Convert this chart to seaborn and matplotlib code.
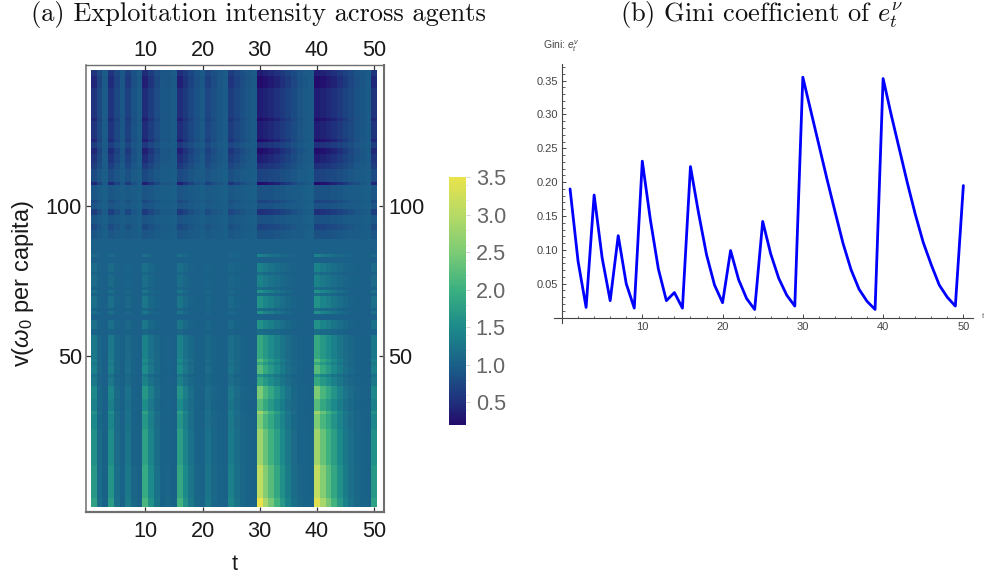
"""
Exploitation intensity heatmap and Gini coefficient line
"""
import numpy as np
import pandas as pd
import matplotlib
matplotlib.use("Agg")
import matplotlib.pyplot as plt
from matplotlib.colors import LinearSegmentedColormap
from matplotlib.ticker import MultipleLocator
from matplotlib.transforms import ScaledTranslation
import seaborn as sns

sns.set_theme(style="white")
plt.rcParams["font.family"] = ["Liberation Sans", "DejaVu Sans"]
plt.rcParams["mathtext.fontset"] = "custom"
plt.rcParams["mathtext.rm"] = "Liberation Sans"
plt.rcParams["mathtext.it"] = "Liberation Sans:italic"

# ========== data ==========
t_values = list(range(1, 51))
gini = [0.190, 0.083, 0.015, 0.181, 0.088, 0.025, 0.121, 0.050, 0.014, 0.231,
        0.145, 0.072, 0.025, 0.037, 0.014, 0.223, 0.155, 0.093, 0.048, 0.022,
        0.099, 0.056, 0.028, 0.012, 0.142, 0.094, 0.058, 0.033, 0.017, 0.355,
        0.305, 0.255, 0.205, 0.157, 0.110, 0.071, 0.042, 0.024, 0.012, 0.353,
        0.300, 0.250, 0.200, 0.153, 0.111, 0.078, 0.048, 0.030, 0.017, 0.195]

# cell values per column, one list per kind of row (named after the level at t=30)
L20 = [.44,.72,.94,.46,.70,.90,.60,.84,.94,.36,.56,.76,.90,.88,.94,.38,.54,.70,.84,.92,.68,.80,.90,.96,.56,.70,.80,.88,.94,.20,.26,.32,.40,.50,.62,.74,.86,.92,.96,.20,.26,.32,.40,.50,.62,.73,.84,.90,.95,.44]
L35 = [.55,.77,.95,.56,.75,.92,.68,.87,.95,.48,.64,.80,.92,.90,.95,.49,.62,.75,.87,.94,.74,.84,.92,.97,.64,.75,.84,.90,.95,.35,.40,.45,.51,.60,.69,.79,.88,.94,.97,.35,.40,.45,.51,.60,.69,.78,.87,.92,.96,.55]
L50 = [.65,.83,.96,.66,.81,.94,.75,.90,.96,.60,.73,.85,.94,.93,.96,.61,.71,.81,.90,.95,.80,.88,.94,.98,.73,.81,.88,.93,.96,.50,.54,.58,.63,.69,.76,.84,.91,.95,.98,.50,.54,.58,.63,.69,.76,.83,.90,.94,.97,.65]
L70 = [.79,.90,.98,.80,.89,.96,.85,.94,.98,.76,.84,.91,.96,.96,.98,.77,.83,.89,.94,.97,.88,.93,.96,.99,.84,.89,.93,.96,.98,.70,.72,.75,.78,.81,.86,.90,.95,.97,.99,.70,.72,.75,.78,.81,.86,.90,.94,.96,.98,.79]
L85 = [.90,.95,.99,.90,.94,.98,.93,.97,.99,.88,.92,.96,.98,.98,.99,.88,.91,.94,.97,.99,.94,.96,.98,.99,.92,.94,.96,.98,.99,.85,.86,.87,.89,.91,.93,.95,.97,.99,1.0,.85,.86,.87,.89,.91,.93,.95,.97,.98,.99,.90]
L100 = [1.01,1.0,1.0,1.01,1.0,1.0,1.0,1.0,1.0,1.01,1.0,1.0,1.0,1.0,1.0,1.01,1.0,1.0,1.0,1.0,1.0,1.0,1.0,1.0,1.0,1.0,1.0,1.0,1.0,1.01,1.01,1.01,1.0,1.0,1.0,1.0,1.0,1.0,1.0,1.01,1.01,1.01,1.0,1.0,1.0,1.0,1.0,1.0,1.0,1.01]
L115 = [1.05,1.01,1.0,1.05,1.01,1.0,1.02,1.0,1.0,1.07,1.03,1.01,1.0,1.0,1.0,1.06,1.03,1.01,1.0,1.0,1.02,1.01,1.0,1.0,1.03,1.01,1.01,1.0,1.0,1.15,1.11,1.09,1.06,1.04,1.02,1.01,1.0,1.0,1.0,1.15,1.11,1.09,1.06,1.04,1.02,1.01,1.01,1.0,1.0,1.05]
L140 = [1.13,1.03,1.0,1.12,1.03,1.01,1.05,1.01,1.0,1.18,1.07,1.02,1.01,1.01,1.0,1.17,1.08,1.03,1.01,1.01,1.04,1.02,1.01,1.0,1.07,1.04,1.02,1.01,1.0,1.40,1.30,1.23,1.17,1.11,1.06,1.03,1.01,1.01,1.0,1.40,1.30,1.23,1.17,1.11,1.06,1.04,1.02,1.01,1.0,1.13]
L160 = [1.19,1.04,1.01,1.18,1.05,1.01,1.08,1.02,1.01,1.26,1.10,1.04,1.01,1.02,1.01,1.25,1.11,1.05,1.02,1.01,1.07,1.02,1.01,1.01,1.11,1.05,1.02,1.01,1.01,1.60,1.45,1.35,1.25,1.17,1.10,1.04,1.02,1.01,1.01,1.60,1.45,1.35,1.25,1.17,1.10,1.05,1.02,1.01,1.01,1.19]
L190 = [1.29,1.06,1.01,1.27,1.07,1.02,1.12,1.03,1.01,1.40,1.20,1.08,1.02,1.03,1.01,1.38,1.20,1.10,1.03,1.02,1.10,1.04,1.02,1.01,1.16,1.08,1.04,1.02,1.01,1.90,1.68,1.52,1.38,1.25,1.14,1.06,1.03,1.02,1.01,1.90,1.68,1.52,1.38,1.25,1.14,1.08,1.04,1.02,1.01,1.29]
L220 = [1.38,1.08,1.01,1.36,1.10,1.02,1.16,1.04,1.01,1.53,1.28,1.11,1.02,1.04,1.01,1.50,1.28,1.13,1.04,1.02,1.13,1.05,1.02,1.01,1.22,1.11,1.05,1.02,1.01,2.20,1.90,1.70,1.50,1.34,1.19,1.08,1.04,1.02,1.01,2.20,1.90,1.70,1.50,1.34,1.19,1.11,1.05,1.02,1.01,1.38]
L250 = [1.48,1.10,1.02,1.45,1.12,1.03,1.20,1.04,1.02,1.66,1.35,1.14,1.03,1.05,1.02,1.63,1.35,1.17,1.05,1.03,1.16,1.06,1.03,1.02,1.27,1.14,1.06,1.03,1.02,2.50,2.12,1.87,1.63,1.42,1.24,1.10,1.05,1.03,1.02,2.50,2.12,1.87,1.63,1.42,1.24,1.14,1.06,1.03,1.02,1.48]
L280 = [1.58,1.13,1.02,1.54,1.14,1.04,1.23,1.05,1.02,1.79,1.42,1.17,1.04,1.05,1.02,1.76,1.42,1.20,1.05,1.04,1.20,1.07,1.04,1.02,1.32,1.16,1.07,1.04,1.02,2.80,2.35,2.04,1.76,1.50,1.29,1.13,1.05,1.04,1.02,2.80,2.35,2.04,1.76,1.50,1.29,1.16,1.07,1.04,1.02,1.58]
L310 = [1.67,1.15,1.02,1.63,1.17,1.04,1.27,1.06,1.02,1.92,1.50,1.20,1.04,1.06,1.02,1.88,1.50,1.25,1.06,1.04,1.23,1.08,1.04,1.02,1.38,1.19,1.08,1.04,1.02,3.10,2.58,2.22,1.88,1.59,1.34,1.15,1.06,1.04,1.02,3.10,2.58,2.22,1.88,1.59,1.34,1.19,1.08,1.04,1.02,1.67]
L350 = [1.80,1.18,1.03,1.75,1.20,1.05,1.33,1.08,1.03,2.10,1.60,1.25,1.05,1.08,1.03,2.05,1.60,1.30,1.08,1.05,1.28,1.10,1.05,1.03,1.45,1.23,1.10,1.05,1.03,3.50,2.88,2.45,2.05,1.70,1.40,1.18,1.08,1.05,1.03,3.40,2.88,2.45,2.05,1.70,1.40,1.23,1.10,1.05,1.03,1.80]

# which kind of row each v is, from v=1 up to v=145
row_kinds = (
    [L350]*3 + [L310]*11 + [L280]*12 + [L250]*5 + [L280]*1 + [L220]*4 + [L250]*4
    + [L190]*3 + [L160]*1 + [L220]*3 + [L190]*1 + [L220]*1
    + [L190]*8 + [L115]*2 + [L160]*3 + [L100]*2 + [L160]*1 + [L115]*1 + [L160]*4
    + [L115]*1 + [L160]*1 + [L115]*1 + [L140]*4 + [L115]*1 + [L140]*3 + [L100]*2
    + [L140]*1 + [L100]*5 + [L85]*3 + [L70]*2 + [L85]*3 + [L50]*2
    + [L85]*2 + [L70]*1 + [L85]*5 + [L20]*1 + [L70]*4 + [L50]*2 + [L35]*3 + [L20]*2
    + [L50]*2 + [L20]*1 + [L35]*6 + [L20]*1 + [L35]*10 + [L20]*4 + [L35]*2
)
v_values = list(range(1, 146))

cmap_colors = ["#230b6b", "#1f2f7c", "#1a6088", "#1c8a8a", "#3bb080", "#7ccb75", "#b6da66", "#e9e34c"]
cmap_levels = [0.2, 0.5, 1.0, 1.5, 2.0, 2.5, 3.0, 3.5]

W, H = 984, 577


def box(left, top, right, bottom):
    return [left / W, 1 - bottom / H, (right - left) / W, (bottom - top) / H]


fig = plt.figure(figsize=(W / 100, H / 100), dpi=100)
ax_heat = fig.add_axes(box(86, 65, 384, 512))
ax_cbar = fig.add_axes(box(449, 177, 466, 425))
ax_line = fig.add_axes(box(554, 64, 973, 323))

# ========== (a) heatmap ==========
df = pd.DataFrame(np.array(row_kinds), index=v_values, columns=t_values)
cmap = LinearSegmentedColormap.from_list(
    "exploit", [((lv - 0.2) / 3.3, c) for lv, c in zip(cmap_levels, cmap_colors)])
sns.heatmap(df, ax=ax_heat, cmap=cmap, vmin=0.2, vmax=3.5, cbar_ax=ax_cbar,
            xticklabels=False, yticklabels=False, rasterized=True)

ax_heat.set_xlim(-5 / 5.72, 293 / 5.72)
ax_heat.set_ylim(-5 / 3.02, 145 + 5 / 3.02)
ax_heat.set_xticks([9.5, 19.5, 29.5, 39.5, 49.5], ["10", "20", "30", "40", "50"])
ax_heat.set_yticks([50, 100], ["50", "100"])
ax_heat.tick_params(axis="both", direction="in", length=3.6, width=0.9, color="#333333",
                    labelsize=15.6, labelcolor="#1a1a1a", pad=3, bottom=True, top=True,
                    left=True, right=True, labelbottom=True, labeltop=True,
                    labelleft=True, labelright=True)
# the bottom labels sit further from the frame than the top ones
for tick in ax_heat.xaxis.get_major_ticks():
    tick.label1.set_transform(tick.label1.get_transform()
                              + ScaledTranslation(0, -0.05, fig.dpi_scale_trans))
for side, lw in [("top", 1.0), ("left", 1.1), ("right", 1.5), ("bottom", 1.6)]:
    ax_heat.spines[side].set_visible(True)
    ax_heat.spines[side].set_color("#6e6e6e")
    ax_heat.spines[side].set_linewidth(lw)
ax_heat.set_xlabel("t", fontsize=15.6, color="#1a1a1a")
ax_heat.xaxis.set_label_coords(0.5, -0.095)
ax_heat.set_ylabel(r"v($\omega_0$ per capita)", fontsize=17, color="#1a1a1a")
ax_heat.yaxis.set_label_coords(-0.168, 0.51)

# colorbar
ax_cbar.set_yticks([0.5, 1.0, 1.5, 2.0, 2.5, 3.0, 3.5],
                   ["0.5", "1.0", "1.5", "2.0", "2.5", "3.0", "3.5"])
ax_cbar.yaxis.set_minor_locator(MultipleLocator(0.2))
ax_cbar.tick_params(axis="y", which="major", direction="out", length=3, width=0.7,
                    color="#d5d5d5", labelsize=15.6, labelcolor="#666666", pad=4, right=True)
ax_cbar.tick_params(axis="y", which="minor", direction="out", length=1.5, width=0.5,
                    color="#dddddd", right=True)

# ========== (b) Gini line ==========
sns.lineplot(x=t_values, y=gini, ax=ax_line, color="#0000ff", linewidth=2.0,
             estimator=None, sort=False)
ax_line.set_xlim(-1.0, 51.2)
ax_line.set_ylim(-0.008, 0.3745)
ax_line.patch.set_alpha(0)
for side in ["top", "right"]:
    ax_line.spines[side].set_visible(False)
for side in ["left", "bottom"]:
    ax_line.spines[side].set_visible(True)
    ax_line.spines[side].set_position(("data", 0))
    ax_line.spines[side].set_color("#444444")
    ax_line.spines[side].set_linewidth(0.8)
ax_line.set_xticks([10, 20, 30, 40, 50])
ax_line.set_yticks([0.05, 0.10, 0.15, 0.20, 0.25, 0.30, 0.35],
                   ["0.05", "0.10", "0.15", "0.20", "0.25", "0.30", "0.35"])
ax_line.xaxis.set_minor_locator(MultipleLocator(2))
ax_line.yaxis.set_minor_locator(MultipleLocator(0.01))
ax_line.tick_params(axis="both", which="major", direction="in", length=3.2, width=0.7,
                    color="#444444", labelsize=8, labelcolor="#444444", pad=3,
                    bottom=True, left=True)
ax_line.tick_params(axis="both", which="minor", direction="in", length=1.8, width=0.6,
                    color="#444444", bottom=True, left=True)

fig.text(543 / W, 1 - 46 / H, r"Gini: $\mathit{e}_{\mathit{t}}^{\mathit{v}}$", fontsize=7.5,
         color="#444444", va="center", ha="left")
fig.text(982 / W, 1 - 316 / H, "t", fontsize=5.8, color="#666666", va="center", ha="left")

# ========== titles ==========
fig.text(258 / W, 1 - 14 / H, "(a) Exploitation intensity across agents", family="cmr10",
         fontsize=19, color="#111111", ha="center", va="center")
fig.text(761 / W, 1 - 14 / H, r"(b) Gini coefficient of $e_t^{\nu}$", family="cmr10",
         math_fontfamily="cm", fontsize=19, color="#111111", ha="center", va="center")

fig.savefig("out.png", dpi=100)
